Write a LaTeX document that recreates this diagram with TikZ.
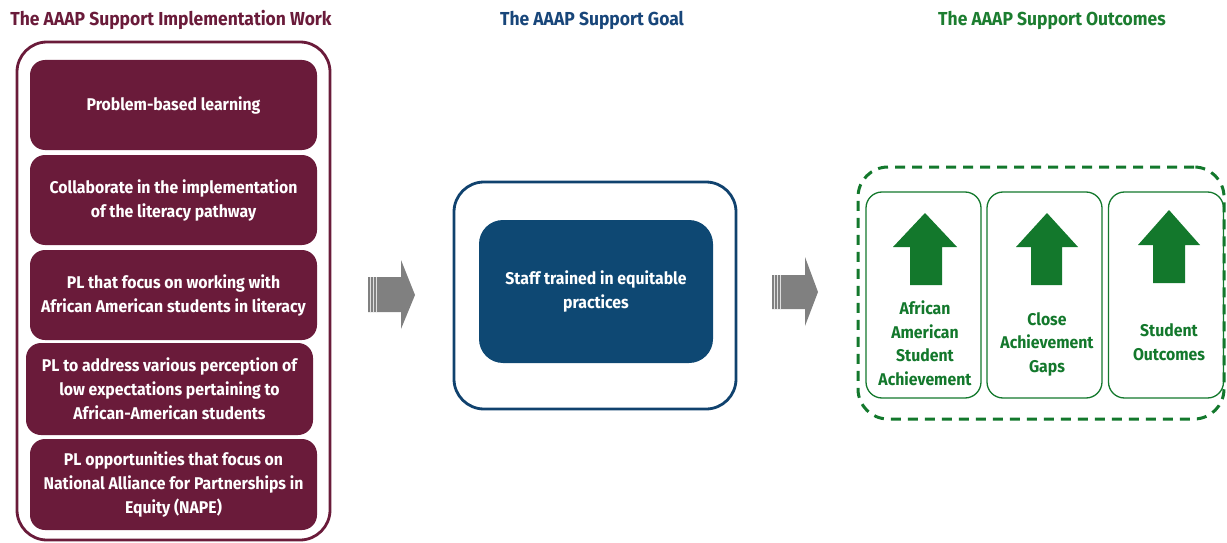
\documentclass[tikz,border=0pt]{standalone}
\usepackage{fontspec}
\setmainfont{Fira Sans}[FakeStretch=0.93]
\definecolor{maroon}{RGB}{106,27,58}
\definecolor{navyfill}{RGB}{14,72,115}
\definecolor{navyline}{RGB}{16,66,110}
\definecolor{navytitle}{RGB}{24,70,122}
\definecolor{grn}{RGB}{19,120,44}
\definecolor{grntitle}{RGB}{28,125,48}
\definecolor{arrgray}{RGB}{128,128,128}
\tikzset{
  title/.style={font=\bfseries\fontsize{18.8}{22}\selectfont, anchor=center, inner sep=0pt},
  implbox/.style={rectangle, rounded corners=15pt, fill=maroon, text=white, align=center,
     inner sep=0pt, font=\bfseries\fontsize{17}{24}\selectfont},
  outerbox/.style={rectangle, rounded corners=30pt, line width=2.8pt, inner sep=0pt},
  goalbox/.style={rectangle, rounded corners=24pt, fill=navyfill, text=white, align=center,
     inner sep=0pt, font=\bfseries\fontsize{17}{24}\selectfont},
  outbox/.style={rectangle, rounded corners=16pt, draw=grn, line width=1.3pt, inner sep=0pt},
  outtext/.style={text=grn, align=center, inner sep=0pt, font=\bfseries\fontsize{17}{23.5}\selectfont},
  uparrow/.style={fill=grn},
  blockarrow/.style={fill=arrgray}
}
\begin{document}
\begin{tikzpicture}[x=1pt,y=-1pt]
\useasboundingbox (0,0) rectangle (1227,543);

% titles
\node[title, text=maroon] (t1) at (171,20) {The AAAP Support Implementation Work};
\node[title, text=navytitle] (t2) at (592,20) {The AAAP Support Goal};
\node[title, text=grntitle] (t3) at (1052,20) {The AAAP Support Outcomes};

% left group
\node[outerbox, draw=maroon, minimum width=313pt, minimum height=498pt] (impl) at (173.5,291) {};
\node[implbox, minimum width=287pt, minimum height=90pt] (b1) at (173.5,105) {Problem-based learning};
\node[implbox, minimum width=287pt, minimum height=90pt] (b2) at (173.5,200) {Collaborate in the implementation\\of the literacy pathway};
\node[implbox, minimum width=287pt, minimum height=90pt] (b3) at (173.5,295) {PL that focus on working with\\African American students in literacy};
\node[implbox, minimum width=287pt, minimum height=92pt] (b4) at (169.5,389) {PL to address various perception of\\low expectations pertaining to\\African-American students};
\node[implbox, minimum width=287pt, minimum height=91pt] (b5) at (173.5,484.5) {PL opportunities that focus on\\National Alliance for Partnerships in\\Equity (NAPE)};

% arrow 1
\fill[blockarrow] (368,277) -- (401,277) -- (401,260) -- (415,295) -- (401,329) -- (401,312) -- (368,312) -- cycle;
\foreach \xx in {370,373,376} \draw[white!75!gray, line width=0.8pt] (\xx,277) -- (\xx,312);

% goal
\node[outerbox, draw=navyline, minimum width=282pt, minimum height=227pt] (goal) at (595,295.5) {};
\node[goalbox, minimum width=234pt, minimum height=143pt] (g1) at (596,291.5) {Staff trained in equitable\\practices};

% arrow 2
\fill[blockarrow] (772,275) -- (805,275) -- (805,257) -- (818,292) -- (805,326) -- (805,309) -- (772,309) -- cycle;
\foreach \xx in {774,777,780} \draw[white!75!gray, line width=0.8pt] (\xx,275) -- (\xx,309);

% outcomes
\node[rectangle, rounded corners=30pt, draw=grn, line width=3pt, dash pattern=on 10pt off 7pt,
  minimum width=366pt, minimum height=252pt] (outc) at (1041,293) {};
\node[outbox, minimum width=115pt, minimum height=206pt] (o1) at (923.5,295) {};
\node[outbox, minimum width=115pt, minimum height=206pt] (o2) at (1044.5,295) {};
\node[outbox, minimum width=115pt, minimum height=206pt] (o3) at (1166,295) {};

\fill[uparrow] (925,213) -- (957,247) -- (942,247) -- (942,285) -- (910,285) -- (910,247) -- (893,247) -- cycle;
\fill[uparrow] (1047,213) -- (1078,247) -- (1062,247) -- (1062,285) -- (1031,285) -- (1031,247) -- (1016,247) -- cycle;
\fill[uparrow] (1169,210) -- (1200,245) -- (1185,245) -- (1185,283) -- (1153,283) -- (1153,245) -- (1138,245) -- cycle;

\node[outtext] (l1) at (925,343) {African\\American\\Student\\Achievement};
\node[outtext] (l2) at (1047,344) {Close\\Achievement\\Gaps};
\node[outtext] (l3) at (1169,342) {Student\\Outcomes};
\end{tikzpicture}
\end{document}
